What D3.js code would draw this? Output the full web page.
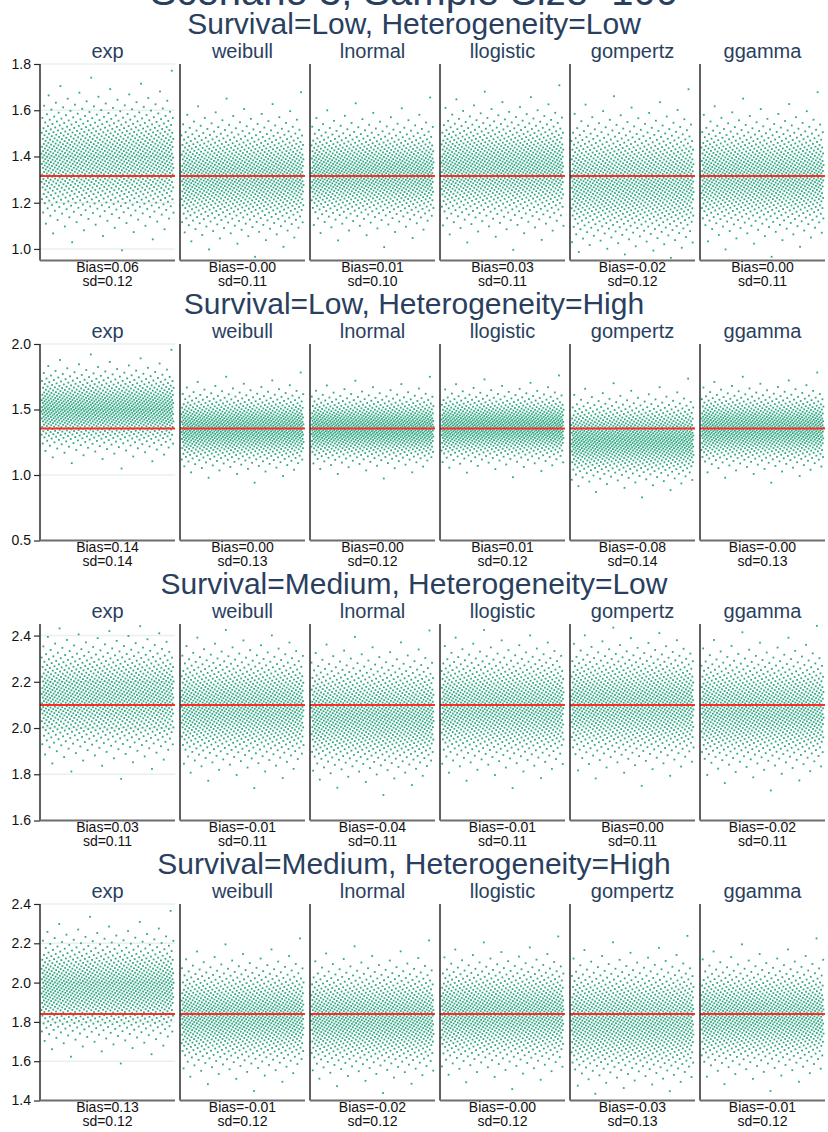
<!DOCTYPE html>
<html>
<head>
<meta charset="utf-8">
<script src="https://cdn.jsdelivr.net/npm/d3@7"></script>
<style>
    html, body { margin: 0; padding: 0; background: #fff; }
    svg { display: block; font-family: "Liberation Sans", Arial, sans-serif; }
</style>
</head>
<body>
<svg id="chart"></svg>
<script>
// Values
const mainTitle = 'Scenario 3, Sample Size=100';
const rowTitles = [
    'Survival=Low, Heterogeneity=Low',
    'Survival=Low, Heterogeneity=High',
    'Survival=Medium, Heterogeneity=Low',
    'Survival=Medium, Heterogeneity=High'
];
const models = ['exp', 'weibull', 'lnormal', 'llogistic', 'gompertz', 'ggamma'];

// true value (red line) per row
const truth = [1.316, 1.355, 2.10, 1.84];

// bias / sd labels per row, per model
const biasLabels = [
    ['0.06', '-0.00', '0.01', '0.03', '-0.02', '0.00'],
    ['0.14', '0.00', '0.00', '0.01', '-0.08', '-0.00'],
    ['0.03', '-0.01', '-0.04', '-0.01', '0.00', '-0.02'],
    ['0.13', '-0.01', '-0.02', '-0.00', '-0.03', '-0.01']
];
const sdLabels = [
    ['0.12', '0.11', '0.10', '0.11', '0.12', '0.11'],
    ['0.14', '0.13', '0.12', '0.12', '0.14', '0.13'],
    ['0.11', '0.11', '0.11', '0.11', '0.11', '0.11'],
    ['0.12', '0.12', '0.12', '0.12', '0.13', '0.12']
];

// y axis ranges and ticks per row
const yDomains = [[0.95, 1.8], [0.5, 2.0], [1.6, 2.45], [1.4, 2.4]];
const yTicks = [
    [1.0, 1.2, 1.4, 1.6, 1.8],
    [0.5, 1.0, 1.5, 2.0],
    [1.6, 1.8, 2.0, 2.2, 2.4],
    [1.4, 1.6, 1.8, 2.0, 2.2, 2.4]
];

// simulation replicates per panel
const nReps = 1000;

const CONFIG = {
    width: 828,
    height: 1132,
    rowStep: 280,
    plotTop: 64,
    plotHeight: 196.5,
    titleColor: '#2a3f5f',
    dotColor: '#1b9e77',
    lineColor: '#ff2a2a',
    gridColor: '#e8f0f3'
};

// inverse normal CDF (Acklam), used to lay out replicate estimates
function probit(p) {
    const a = [-3.969683028665376e+01, 2.209460984245205e+02, -2.759285104469687e+02, 1.383577518672690e+02, -3.066479806614716e+01, 2.506628277459239e+00];
    const b = [-5.447609879822406e+01, 1.615858368580409e+02, -1.556989798598866e+02, 6.680131188771972e+01, -1.328068155288572e+01];
    const c = [-7.784894002430293e-03, -3.223964580411365e-01, -2.400758277161838e+00, -2.549732539343734e+00, 4.374664141464968e+00, 2.938163982698783e+00];
    const d = [7.784695709041462e-03, 3.224671290700398e-01, 2.445134137142996e+00, 3.754408661907416e+00];
    const pl = 0.02425;
    let q, r;
    if (p < pl) {
        q = Math.sqrt(-2 * Math.log(p));
        return (((((c[0] * q + c[1]) * q + c[2]) * q + c[3]) * q + c[4]) * q + c[5]) /
            ((((d[0] * q + d[1]) * q + d[2]) * q + d[3]) * q + 1);
    }
    if (p > 1 - pl) {
        q = Math.sqrt(-2 * Math.log(1 - p));
        return -(((((c[0] * q + c[1]) * q + c[2]) * q + c[3]) * q + c[4]) * q + c[5]) /
            ((((d[0] * q + d[1]) * q + d[2]) * q + d[3]) * q + 1);
    }
    q = p - 0.5;
    r = q * q;
    return (((((a[0] * r + a[1]) * r + a[2]) * r + a[3]) * r + a[4]) * r + a[5]) * q /
        (((((b[0] * r + b[1]) * r + b[2]) * r + b[3]) * r + b[4]) * r + 1);
}

const Chart = {
    svg: null,

    render() {
        this.svg = d3.select('#chart')
            .attr('width', CONFIG.width)
            .attr('height', CONFIG.height);

        this.svg.append('text')
            .attr('x', 414)
            .attr('y', 5)
            .attr('text-anchor', 'middle')
            .attr('font-size', '40px')
            .attr('fill', CONFIG.titleColor)
            .text(mainTitle);

        rowTitles.forEach((t, r) => this.drawRow(r));
    },

    panelX(j) {
        // first panel is a little wider than the others
        if (j === 0) return [40, 175];
        const x0 = 180 + 130 * (j - 1);
        return [x0, x0 + 125];
    },

    drawRow(r) {
        const top = CONFIG.plotTop + CONFIG.rowStep * r;
        const bottom = top + CONFIG.plotHeight;
        const g = this.svg.append('g').attr('class', 'row');

        g.append('text')
            .attr('x', 414)
            .attr('y', 34 + CONFIG.rowStep * r)
            .attr('text-anchor', 'middle')
            .attr('font-size', '30px')
            .attr('fill', CONFIG.titleColor)
            .text(rowTitles[r]);

        const yScale = d3.scaleLinear()
            .domain(yDomains[r])
            .range([bottom, top]);

        models.forEach((m, j) => {
            const [x0, x1] = this.panelX(j);
            const xScale = d3.scaleLinear().domain([1, nReps]).range([x0 + 1.5, x1 - 1.5]);
            const p = g.append('g').attr('class', 'panel');

            // grid only in the first column
            if (j === 0) {
                p.append('g')
                    .selectAll('line')
                    .data(yTicks[r])
                    .join('line')
                    .attr('x1', x0).attr('x2', x1)
                    .attr('y1', d => yScale(d)).attr('y2', d => yScale(d))
                    .attr('stroke', CONFIG.gridColor)
                    .attr('stroke-width', 1.5);
            }

            // replicate estimates: quantiles of N(truth + bias, sd)
            const mean = truth[r] + parseFloat(biasLabels[r][j]);
            const sd = parseFloat(sdLabels[r][j]);
            const pts = d3.range(nReps).map(i => {
                const u = ((i + 1 + j * 7 + r * 3) * 0.6180339887498949) % 1;
                const pp = Math.min(Math.max(u, 0.5 / nReps), 1 - 0.5 / nReps);
                return { rep: i + 1, est: mean + sd * probit(pp) };
            }).filter(d => d.est >= yDomains[r][0] && d.est <= yDomains[r][1]);

            p.append('g')
                .selectAll('rect')
                .data(pts)
                .join('rect')
                .attr('x', d => xScale(d.rep) - 0.9)
                .attr('y', d => yScale(d.est) - 0.9)
                .attr('width', 1.8)
                .attr('height', 1.8)
                .attr('fill', CONFIG.dotColor)
                .attr('opacity', 0.9);

            // true value
            p.append('line')
                .attr('x1', x0).attr('x2', x1)
                .attr('y1', yScale(truth[r])).attr('y2', yScale(truth[r]))
                .attr('stroke', CONFIG.lineColor)
                .attr('stroke-width', 2);

            // axis lines
            p.append('line')
                .attr('x1', x0).attr('x2', x0)
                .attr('y1', top).attr('y2', bottom)
                .attr('stroke', '#2b2b2b')
                .attr('stroke-width', 1.5);
            p.append('line')
                .attr('x1', x0).attr('x2', x1)
                .attr('y1', bottom).attr('y2', bottom)
                .attr('stroke', '#6e6e6e')
                .attr('stroke-width', 2);

            // facet label
            p.append('text')
                .attr('x', (x0 + x1) / 2)
                .attr('y', 58 + CONFIG.rowStep * r)
                .attr('text-anchor', 'middle')
                .attr('font-size', '20px')
                .attr('fill', CONFIG.titleColor)
                .text(m);

            // bias / sd labels
            p.append('text')
                .attr('x', (x0 + x1) / 2)
                .attr('y', bottom + 11.5)
                .attr('text-anchor', 'middle')
                .attr('font-size', '14px')
                .attr('fill', '#111')
                .text(`Bias=${biasLabels[r][j]}`);
            p.append('text')
                .attr('x', (x0 + x1) / 2)
                .attr('y', bottom + 25.5)
                .attr('text-anchor', 'middle')
                .attr('font-size', '14px')
                .attr('fill', '#111')
                .text(`sd=${sdLabels[r][j]}`);
        });

        // y axis on the left
        const axis = g.append('g')
            .attr('transform', 'translate(40,0)')
            .call(d3.axisLeft(yScale)
                .tickValues(yTicks[r])
                .tickFormat(d3.format('.1f'))
                .tickSize(6)
                .tickPadding(3));
        axis.select('.domain').remove();
        axis.selectAll('.tick line').attr('stroke', '#2b2b2b').attr('stroke-width', 1.2);
        axis.selectAll('.tick text')
            .attr('font-size', '14px')
            .attr('font-family', '"Liberation Sans", Arial, sans-serif')
            .attr('fill', '#111');
    }
};

Chart.render();
</script>
</body>
</html>
